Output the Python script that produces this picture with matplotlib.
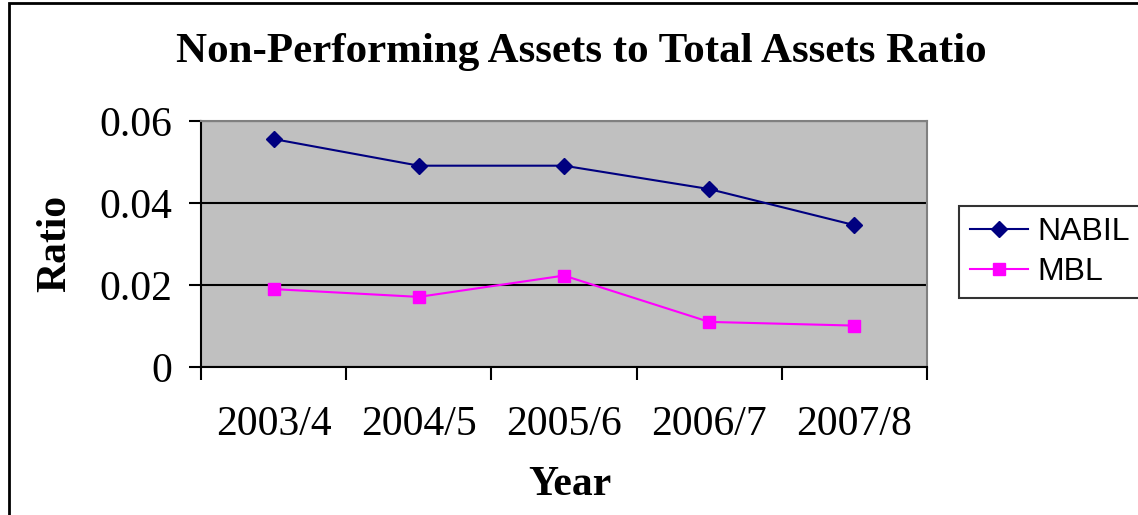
import numpy as np
import matplotlib.pyplot as plt
from matplotlib.patches import Rectangle

years = ['2003/4', '2004/5', '2005/6', '2006/7', '2007/8']
nabil = [0.0556, 0.0491, 0.0491, 0.0434, 0.0346]
mbl = [0.0190, 0.0171, 0.0223, 0.0110, 0.0101]

W, H = 1138, 515
fig = plt.figure(figsize=(W / 100, H / 100), dpi=100)
ax = fig.add_axes([201 / W, 1 - 367 / H, 726 / W, 246 / H])

x = np.arange(len(years))
ax.plot(x, nabil, color='#000080', marker='D', markersize=8, lw=1.5, label='NABIL')
ax.plot(x, mbl, color='#FF00FF', marker='s', markersize=9, lw=1.5, label='MBL')

ax.set_facecolor('#C0C0C0')
ax.set_xlim(-0.5, 4.5)
ax.set_ylim(0, 0.06)
ax.set_yticks([0, 0.02, 0.04, 0.06])
ax.set_yticklabels(['0', '0.02', '0.04', '0.06'])
ax.yaxis.grid(True, color='black', lw=1.5)
ax.set_axisbelow(True)

ax.set_xticks(x)
ax.set_xticklabels(years)
ax.set_xticks(np.arange(-0.5, 5, 1), minor=True)
ax.tick_params(axis='x', which='major', length=0, pad=28)
ax.tick_params(axis='x', which='minor', length=9, width=1.5, direction='out')
ax.tick_params(axis='y', length=9, width=1.5, direction='out', pad=12)

serif = 'Liberation Serif'
for lab in ax.get_xticklabels() + ax.get_yticklabels():
    lab.set_fontfamily(serif)
    lab.set_fontsize(30)

for s in ['left', 'bottom']:
    ax.spines[s].set_color('black')
    ax.spines[s].set_linewidth(1.5)
for s in ['top', 'right']:
    ax.spines[s].set_color('#808080')
    ax.spines[s].set_linewidth(1.5)

fig.text(570 / W, 1 - 485 / H, 'Year', ha='center', va='center',
         fontfamily=serif, fontsize=30, fontweight='bold')
fig.text(55 / W, 1 - 243 / H, 'Ratio', ha='center', va='center', rotation=90,
         fontfamily=serif, fontsize=30, fontweight='bold')

fig.text(581 / W, 1 - 52 / H, 'Non-Performing Assets to Total Assets Ratio',
         ha='center', va='center', fontfamily=serif, fontsize=31, fontweight='bold')

leg = fig.legend(loc='center left', bbox_to_anchor=(959 / W, 1 - 252 / H),
                 prop={'family': 'Liberation Sans', 'size': 23},
                 frameon=True, fancybox=False, edgecolor='black',
                 handlelength=1.8, borderpad=0.35, labelspacing=0.3, handletextpad=0.3,
                 borderaxespad=0)
leg.get_frame().set_linewidth(1.5)

fig.patches.append(Rectangle((9 / W, -0.1), 1.2, 1 - 3 / H + 0.1, transform=fig.transFigure,
                             fill=False, edgecolor='black', lw=2))

fig.savefig('out.png', dpi=100)
